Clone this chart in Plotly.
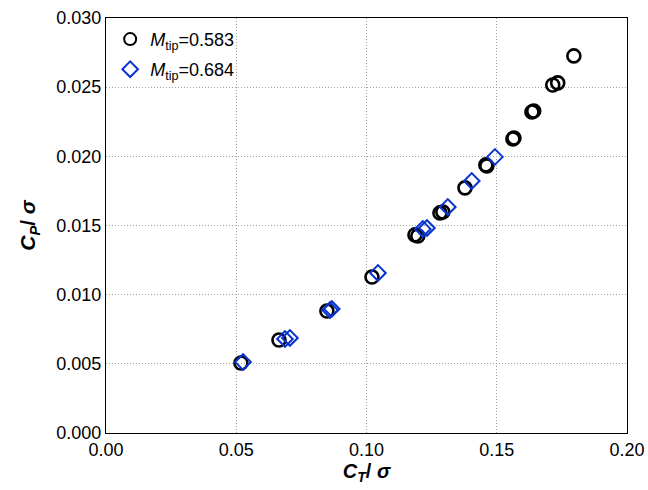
import plotly.graph_objects as go

ct_583 = [0.0518, 0.0664, 0.0848, 0.1021, 0.1186, 0.1197, 0.1282, 0.1293, 0.1378,
          0.1458, 0.1462, 0.1562, 0.1566, 0.1635, 0.1642, 0.1715, 0.1734, 0.1796]
cp_583 = [0.00506, 0.00672, 0.00882, 0.01128, 0.01432, 0.01424, 0.01591, 0.01598, 0.01772,
          0.01938, 0.01930, 0.02126, 0.02133, 0.02321, 0.02328, 0.02516, 0.02531, 0.02726]

ct_684 = [0.0526, 0.0687, 0.0706, 0.0860, 0.0867, 0.1044, 0.1216, 0.1232, 0.1312, 0.1404, 0.1493]
cp_684 = [0.00513, 0.00680, 0.00687, 0.00889, 0.00897, 0.01157, 0.01475, 0.01482, 0.01634, 0.01822, 0.01996]

x_ticks = [0.00, 0.05, 0.10, 0.15, 0.20]
y_ticks = [0.000, 0.005, 0.010, 0.015, 0.020, 0.025, 0.030]

FONT = "Liberation Sans, Arial, Helvetica, sans-serif"

fig = go.Figure()
fig.add_trace(go.Scatter(
    x=ct_583, y=cp_583, mode="markers",
    name="<i>M</i><sub>tip</sub>=0.583", legend="legend",
    marker=dict(symbol="circle-open", size=13, color="black", line=dict(width=2.6, color="black")),
))
fig.add_trace(go.Scatter(
    x=ct_684, y=cp_684, mode="markers",
    name="<i>M</i><sub>tip</sub>=0.684", legend="legend2",
    marker=dict(symbol="diamond-open", size=12, color="#0a34d0", line=dict(width=2, color="#0a34d0")),
))

axis_common = dict(
    showline=True, linecolor="black", linewidth=1.2, mirror=True,
    showgrid=True, gridcolor="#a0a0a0", griddash="1px,2px", gridwidth=1,
    zeroline=False, ticks="", automargin=False,
    tickfont=dict(family=FONT, size=18, color="black"),
)

fig.update_xaxes(range=[0, 0.20], tickvals=x_ticks, tickformat=".2f",
                 title=dict(text="<b><i>C<sub>T</sub></i>/ <i>σ</i></b>",
                            font=dict(family=FONT, size=20, color="black"), standoff=2),
                 **axis_common)
fig.update_yaxes(range=[0, 0.030], tickvals=y_ticks, tickformat=".3f",
                 title=dict(text="<b><i>C<sub>P</sub></i>/ <i>σ</i></b>",
                            font=dict(family=FONT, size=21, color="black"), standoff=14),
                 **axis_common)

legend_common = dict(xanchor="left", yanchor="top", bgcolor="rgba(255,255,255,0)",
                     font=dict(family=FONT, size=18), itemsizing="constant")

fig.update_layout(
    width=648, height=490,
    margin=dict(l=106, r=21, t=18, b=57),
    plot_bgcolor="white", paper_bgcolor="white",
    font=dict(family=FONT, size=18, color="black"),
    legend=dict(x=0.008, y=0.993, **legend_common),
    legend2=dict(x=0.008, y=0.9205, **legend_common),
    showlegend=True,
)

fig.write_html("out.html")
